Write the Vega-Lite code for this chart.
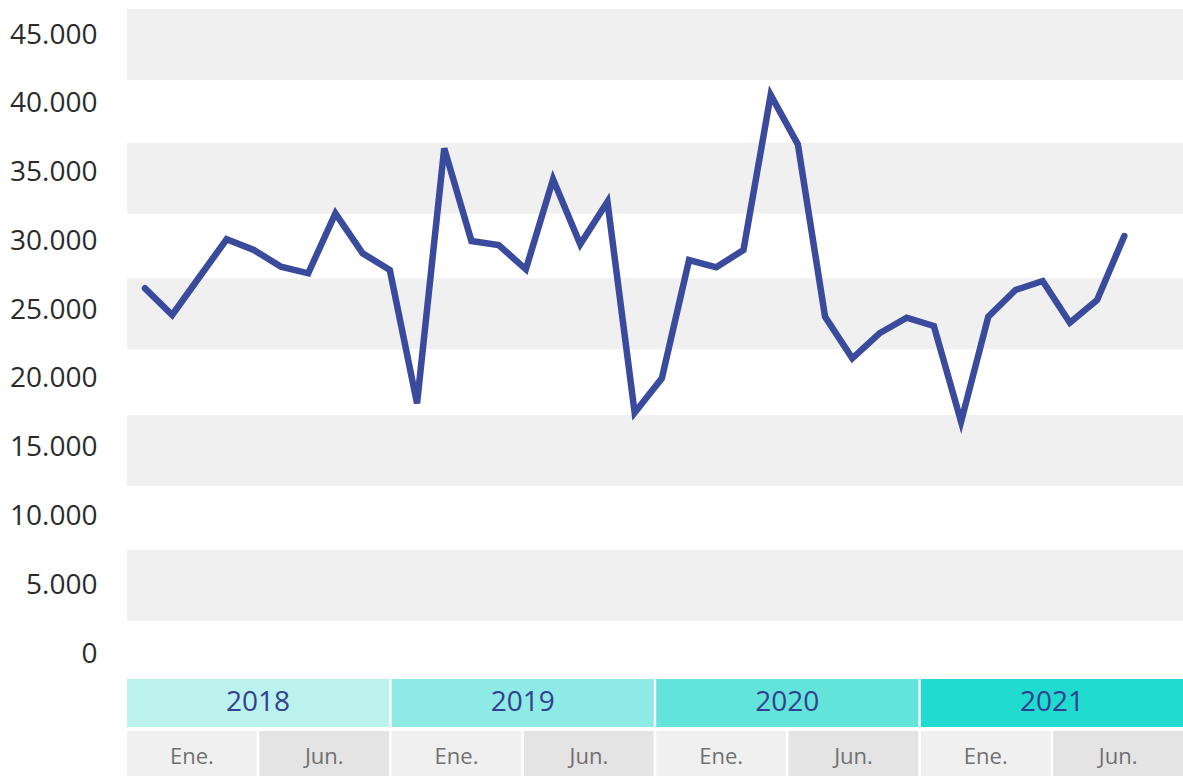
{
  "$schema": "https://vega.github.io/schema/vega-lite/v6.json",
  "padding": {"left": 0, "top": 9, "right": 0, "bottom": 0},
  "spacing": 2,
  "resolve": {"scale": {"color": "independent", "x": "independent"}},
  "config": {
    "font": "Open Sans",
    "view": {"stroke": null},
    "locale": {"number": {"decimal": ",", "thousands": ".", "grouping": [3], "currency": ["", " €"]}}
  },
  "datasets": {
    "serie": [
      {"orden": 1, "mes": "2018-01", "valor": 26586},
      {"orden": 2, "mes": "2018-02", "valor": 24645},
      {"orden": 3, "mes": "2018-03", "valor": 27408},
      {"orden": 4, "mes": "2018-04", "valor": 30149},
      {"orden": 5, "mes": "2018-05", "valor": 29371},
      {"orden": 6, "mes": "2018-06", "valor": 28157},
      {"orden": 7, "mes": "2018-07", "valor": 27677},
      {"orden": 8, "mes": "2018-08", "valor": 32039},
      {"orden": 9, "mes": "2018-09", "valor": 29131},
      {"orden": 10, "mes": "2018-10", "valor": 27917},
      {"orden": 11, "mes": "2018-11", "valor": 18226},
      {"orden": 12, "mes": "2018-12", "valor": 36764},
      {"orden": 13, "mes": "2019-01", "valor": 30025},
      {"orden": 14, "mes": "2019-02", "valor": 29734},
      {"orden": 15, "mes": "2019-03", "valor": 27968},
      {"orden": 16, "mes": "2019-04", "valor": 34511},
      {"orden": 17, "mes": "2019-05", "valor": 29785},
      {"orden": 18, "mes": "2019-06", "valor": 32882},
      {"orden": 19, "mes": "2019-07", "valor": 17543},
      {"orden": 20, "mes": "2019-08", "valor": 20043},
      {"orden": 21, "mes": "2019-09", "valor": 28644},
      {"orden": 22, "mes": "2019-10", "valor": 28113},
      {"orden": 23, "mes": "2019-11", "valor": 29371},
      {"orden": 24, "mes": "2019-12", "valor": 40639},
      {"orden": 25, "mes": "2020-01", "valor": 37055},
      {"orden": 26, "mes": "2020-02", "valor": 24522},
      {"orden": 27, "mes": "2020-03", "valor": 21497},
      {"orden": 28, "mes": "2020-04", "valor": 23315},
      {"orden": 29, "mes": "2020-05", "valor": 24449},
      {"orden": 30, "mes": "2020-06", "valor": 23846},
      {"orden": 31, "mes": "2020-07", "valor": 16888},
      {"orden": 32, "mes": "2020-08", "valor": 24522},
      {"orden": 33, "mes": "2020-09", "valor": 26463},
      {"orden": 34, "mes": "2020-10", "valor": 27117},
      {"orden": 35, "mes": "2020-11", "valor": 24086},
      {"orden": 36, "mes": "2020-12", "valor": 25736},
      {"orden": 37, "mes": "2021-01", "valor": 30389}
    ],
    "bandas": [
      {"desde": 2421, "hasta": 7561},
      {"desde": 12214, "hasta": 17375},
      {"desde": 22152, "hasta": 27313},
      {"desde": 32010, "hasta": 37172},
      {"desde": 41708, "hasta": 46892}
    ],
    "anios": [
      {"anio": "2018"},
      {"anio": "2019"},
      {"anio": "2020"},
      {"anio": "2021"}
    ],
    "meses": [
      {"celda": "2018 Ene.", "mes": "Ene."},
      {"celda": "2018 Jun.", "mes": "Jun."},
      {"celda": "2019 Ene.", "mes": "Ene."},
      {"celda": "2019 Jun.", "mes": "Jun."},
      {"celda": "2020 Ene.", "mes": "Ene."},
      {"celda": "2020 Jun.", "mes": "Jun."},
      {"celda": "2021 Ene.", "mes": "Ene."},
      {"celda": "2021 Jun.", "mes": "Jun."}
    ]
  },
  "vconcat": [
    {
      "width": 1056,
      "height": 668,
      "layer": [
        {
          "data": {"name": "bandas"},
          "mark": {"type": "rect", "color": "#f0f0f0"},
          "encoding": {
            "x": {"value": 0},
            "x2": {"value": "width"},
            "y": {
              "field": "desde",
              "type": "quantitative",
              "scale": {"domain": [-1672, 46892], "nice": false, "zero": false},
              "axis": {
                "title": null,
                "values": [0, 5000, 10000, 15000, 20000, 25000, 30000, 35000, 40000, 45000],
                "format": ",d",
                "domain": false,
                "ticks": false,
                "grid": false,
                "labelFont": "Open Sans",
                "labelFontSize": 28,
                "labelColor": "#2b2b2b",
                "labelPadding": 30,
                "minExtent": 127,
                "maxExtent": 127
              }
            },
            "y2": {"field": "hasta"}
          }
        },
        {
          "data": {"name": "serie"},
          "mark": {"type": "line", "color": "#3a4a9c", "strokeWidth": 6.5, "strokeCap": "round", "strokeJoin": "miter"},
          "encoding": {
            "x": {
              "field": "orden",
              "type": "quantitative",
              "scale": {"domain": [0.338, 39.158], "nice": false, "zero": false},
              "axis": null
            },
            "y": {"field": "valor", "type": "quantitative"}
          }
        }
      ]
    },
    {
      "spacing": 4,
      "resolve": {"scale": {"color": "independent", "x": "independent"}},
      "vconcat": [
        {
          "width": 1056,
          "height": 48,
          "data": {"name": "anios"},
          "encoding": {
            "x": {"field": "anio", "type": "ordinal", "scale": {"paddingInner": 0.009, "paddingOuter": 0}, "axis": null}
          },
          "layer": [
            {
              "mark": {"type": "rect"},
              "encoding": {
                "y": {"value": 0},
                "y2": {"value": "height"},
                "color": {
                  "field": "anio",
                  "type": "ordinal",
                  "scale": {"range": ["#bbf2ee", "#8eeae5", "#63e4db", "#1fdbd0"]},
                  "legend": null
                }
              }
            },
            {
              "mark": {"type": "text", "fontSize": 28, "color": "#34408f", "font": "Open Sans"},
              "encoding": {"text": {"field": "anio"}}
            }
          ]
        },
        {
          "width": 1056,
          "height": 45,
          "data": {"name": "meses"},
          "encoding": {
            "x": {"field": "celda", "type": "ordinal", "sort": null, "scale": {"paddingInner": 0.019, "paddingOuter": 0}, "axis": null}
          },
          "layer": [
            {
              "mark": {"type": "rect"},
              "encoding": {
                "y": {"value": 0},
                "y2": {"value": "height"},
                "color": {
                  "field": "mes",
                  "type": "nominal",
                  "scale": {"domain": ["Ene.", "Jun."], "range": ["#f0f0f0", "#e4e4e4"]},
                  "legend": null
                }
              }
            },
            {
              "mark": {"type": "text", "fontSize": 22, "color": "#707070", "font": "Open Sans", "dy": 3},
              "encoding": {"text": {"field": "mes"}}
            }
          ]
        }
      ]
    }
  ]
}
